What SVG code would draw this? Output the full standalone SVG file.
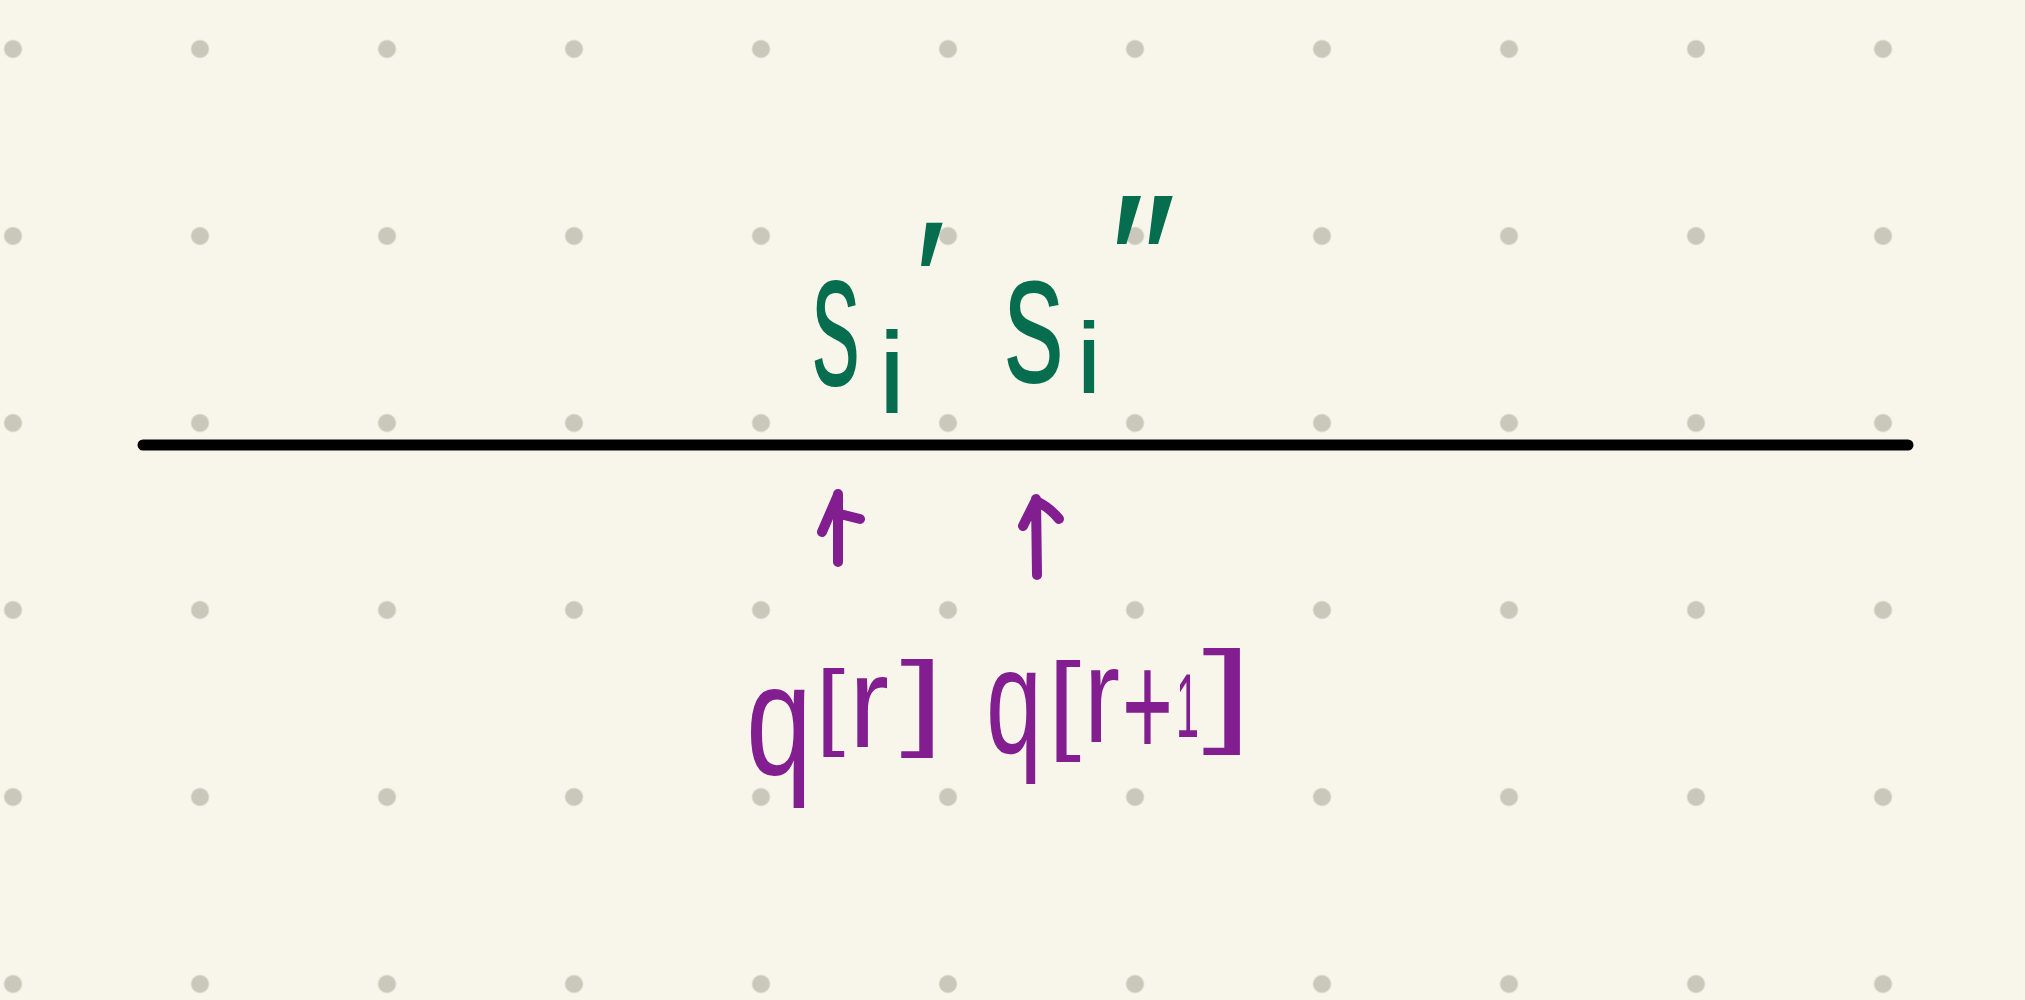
<svg xmlns="http://www.w3.org/2000/svg" width="2025" height="1000" viewBox="0 0 2025 1000">
  <defs>
    <pattern id="dots" patternUnits="userSpaceOnUse" x="-80.5" y="-44.5" width="187" height="187">
      <circle cx="93.5" cy="93.5" r="9" fill="#cac8bb"/>
    </pattern>
  </defs>
  <style>
    .g { fill: #066e4f; font-family: "Liberation Sans", Arial, sans-serif; }
    .p { fill: #821e8f; font-family: "Liberation Sans", Arial, sans-serif; }
    .rule { stroke: #000; stroke-width: 11; stroke-linecap: round; fill: none; }
    .arrow { stroke: #821e8f; stroke-width: 10; stroke-linecap: round; stroke-linejoin: round; fill: none; }
  </style>
  <rect width="2025" height="1000" fill="#f8f6ea"/>
  <rect width="2025" height="1000" fill="url(#dots)"/>

  <g id="rule">
    <line class="rule" x1="143" y1="445" x2="1908" y2="445"/>
  </g>

  <g id="label-s-i-prime">
    <text class="g"><tspan x="812" y="385" font-size="195" textLength="48" lengthAdjust="spacingAndGlyphs">s</tspan><tspan x="878" y="412" font-size="115" textLength="28" lengthAdjust="spacingAndGlyphs">i</tspan><tspan x="914" y="340" font-size="170">′</tspan></text>
  </g>

  <g id="label-s-i-double-prime">
    <text class="g"><tspan x="1004" y="382" font-size="190" textLength="60" lengthAdjust="spacingAndGlyphs">s</tspan><tspan x="1076" y="393" font-size="100" textLength="26" lengthAdjust="spacingAndGlyphs">i</tspan><tspan x="1109" y="326" font-size="190">″</tspan></text>
  </g>

  <g id="label-q-r">
    <text class="p"><tspan x="746" y="775" font-size="160" textLength="66" lengthAdjust="spacingAndGlyphs">q</tspan><tspan x="816" y="737" font-size="95" textLength="29" lengthAdjust="spacingAndGlyphs">[</tspan><tspan x="849" y="747" font-size="130" textLength="40" lengthAdjust="spacingAndGlyphs">r</tspan><tspan x="900" y="736" font-size="105" textLength="44" lengthAdjust="spacingAndGlyphs">]</tspan></text>
  </g>

  <g id="label-q-r-plus-1">
    <text class="p"><tspan x="986" y="753" font-size="150" textLength="56" lengthAdjust="spacingAndGlyphs">q</tspan><tspan x="1048" y="739" font-size="110" textLength="33" lengthAdjust="spacingAndGlyphs">[</tspan><tspan x="1084" y="742" font-size="135" textLength="36" lengthAdjust="spacingAndGlyphs">r</tspan><tspan x="1122" y="757" font-size="150" textLength="51" lengthAdjust="spacingAndGlyphs">+</tspan><tspan x="1176" y="737" font-size="91" textLength="23" lengthAdjust="spacingAndGlyphs">1</tspan><tspan x="1202" y="731" font-size="115" textLength="51" lengthAdjust="spacingAndGlyphs">]</tspan></text>
  </g>

  <g id="connectors">
    <path class="arrow" d="M838,562 L838,494 M822,532 L838,495 M840,514 L860,519"/>
    <path class="arrow" d="M1037,575 L1036,499 M1023,526 L1036,500 M1038,502 Q1050,508 1059,519"/>
  </g>
</svg>
